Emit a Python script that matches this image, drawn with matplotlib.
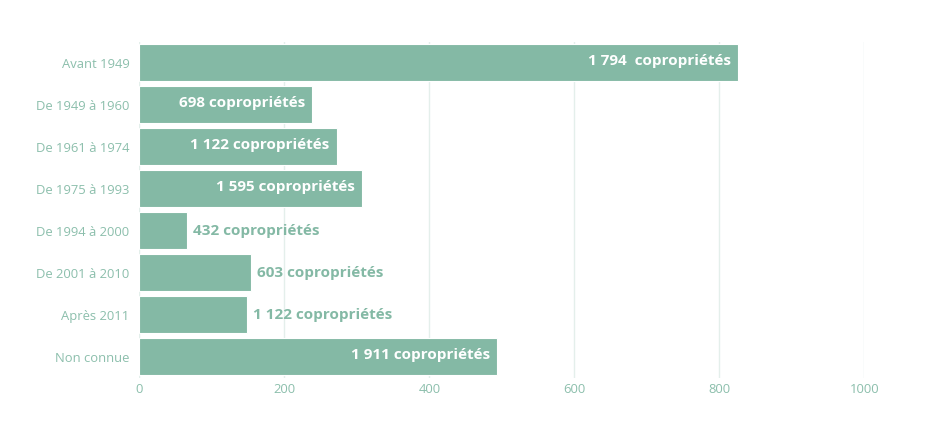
import matplotlib
matplotlib.use("Agg")
import matplotlib.pyplot as plt

# categories (top to bottom) and bar lengths
periodes = ["Avant 1949", "De 1949 à 1960", "De 1961 à 1974", "De 1975 à 1993",
            "De 1994 à 2000", "De 2001 à 2010", "Après 2011", "Non connue"]
valeurs = [826, 238, 272, 307, 66, 154, 149, 493]
etiquettes = ["1 794  copropriétés", "698 copropriétés", "1 122 copropriétés",
              "1 595 copropriétés", "432 copropriétés", "603 copropriétés",
              "1 122 copropriétés", "1 911 copropriétés"]
dedans = [True, True, True, True, False, False, False, True]
xticks = [0, 200, 400, 600, 800, 1000]

vert = "#84b9a5"
vert_txt = "#8cbfac"
grille = "#e4efeb"

fig = plt.figure(figsize=(9.35, 4.37), dpi=100)
ax = fig.add_axes([0.149, 0.136, 0.7754, 0.769])

pos = list(range(len(periodes)))
ax.barh(pos, valeurs, height=0.88, color=vert, edgecolor="white", linewidth=0.8, zorder=2)

for y, v, lab, inside in zip(pos, valeurs, etiquettes, dedans):
    if inside:
        ax.annotate(lab, (v, y), xytext=(-5, 1), textcoords="offset points",
                    ha="right", va="center", color="white", fontsize=11,
                    fontweight="bold", family="Open Sans", zorder=3)
    else:
        ax.annotate(lab, (v, y), xytext=(4, 0), textcoords="offset points",
                    ha="left", va="center", color=vert, fontsize=11,
                    fontweight="bold", family="Open Sans", zorder=3)

ax.set_xlim(0, 1000)
ax.set_ylim(len(periodes) - 0.5, -0.5)
ax.set_yticks(pos)
ax.set_yticklabels(periodes)
ax.set_xticks(xticks)
ax.tick_params(axis="both", length=0, colors=vert_txt, labelsize=9.4)
ax.tick_params(axis="y", pad=7)
ax.tick_params(axis="x", pad=4)
for t in ax.get_xticklabels() + ax.get_yticklabels():
    t.set_family("Open Sans")

ax.grid(axis="x", color=grille, linewidth=1, zorder=0)
ax.set_axisbelow(True)
for s in ax.spines.values():
    s.set_visible(False)

fig.savefig("out.png", dpi=100)
